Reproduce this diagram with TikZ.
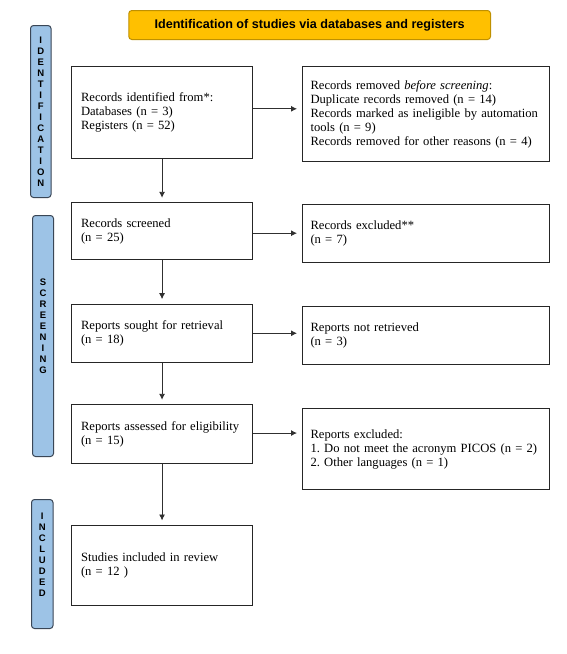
\documentclass[tikz,border=0pt]{standalone}
\usepackage{fontspec}
\setmainfont{Liberation Serif}[WordSpace=0.8]
\newfontfamily\arialfont{Liberation Sans}
\usetikzlibrary{arrows.meta}
\definecolor{titlefill}{HTML}{FFC000}
\definecolor{titledraw}{HTML}{BF9000}
\definecolor{barfill}{HTML}{9DC3E6}
\definecolor{bardraw}{HTML}{3A4656}
\definecolor{arrcol}{HTML}{303030}
\frenchspacing
\begin{document}
\begin{tikzpicture}[x=1pt,y=-1pt,
  box/.style={draw=black!85, line width=1.1pt, inner ysep=0pt, align=left,
    anchor=north west, font=\fontsize{12.6}{14}\selectfont},
  leftbox/.style={box, inner xsep=9.5pt, text width=162pt},
  rightbox/.style={box, inner xsep=8.5pt, text width=230pt},
  bar/.style={draw=bardraw, fill=barfill, line width=1pt, rounded corners=3pt,
    anchor=north west, inner sep=0pt, align=center,
    font=\arialfont\bfseries\fontsize{9.5}{11}\selectfont},
  titlebox/.style={draw=titledraw, fill=titlefill, line width=1pt, rounded corners=3pt,
    anchor=north west, inner sep=0pt,
    font=\arialfont\bfseries\fontsize{12.6}{14}\selectfont},
  arr/.style={draw=arrcol, line width=0.9pt, -{Latex[length=6pt,width=6pt]}, shorten >=4.5pt}
]
\useasboundingbox[fill=white] (0,0) rectangle (567,654);

% title
\node[titlebox, minimum width=361.7pt, minimum height=29pt] (title) at (128.3,10)
  {Identification of studies via databases and registers};

% side bars
\node[bar, minimum width=20.5pt, minimum height=172pt] (idbar) at (30,25)
  {I\\D\\E\\N\\T\\I\\F\\I\\C\\A\\T\\I\\O\\N};
\node[bar, minimum width=21pt, minimum height=241pt] (scbar) at (32,215)
  {S\\C\\R\\E\\E\\N\\I\\N\\G\\[8pt]};
\node[bar, minimum width=21.5pt, minimum height=129pt] (inbar) at (31,499)
  {I\\N\\C\\L\\U\\D\\E\\D\\[8pt]};

% left column
\node[leftbox, minimum height=91.5pt] (b1) at (71,66)
  {Records identified from*:\\Databases (n = 3)\\Registers (n = 52)};
\node[leftbox, minimum height=56.7pt] (b2) at (71,202.3)
  {Records screened\\(n = 25)};
\node[leftbox, minimum height=58pt] (b3) at (71,303.7)
  {Reports sought for retrieval\\(n = 18)};
\node[leftbox, minimum height=58.4pt] (b4) at (71,404.3)
  {Reports assessed for eligibility\\(n = 15)};
\node[leftbox, minimum height=80pt] (b5) at (71,525)
  {Studies included in review\\(n = 12 )};

% right column
\node[rightbox, minimum height=95pt] (r1) at (301.5,66)
  {Records removed \textit{before screening}:\\Duplicate records removed (n = 14)\\Records marked as ineligible by automation\\tools (n = 9)\\Records removed for other reasons (n = 4)};
\node[rightbox, minimum height=58pt] (r2) at (301.5,204)
  {Records excluded**\\(n = 7)};
\node[rightbox, minimum height=58pt] (r3) at (301.5,306)
  {Reports not retrieved\\(n = 3)};
\node[rightbox, minimum height=81.6pt] (r4) at (301.5,407.7)
  {Reports excluded:\\1. Do not meet the acronym PICOS (n = 2)\\2. Other languages (n = 1)};

% vertical arrows
\draw[arr] (b1) -- (b2);
\draw[arr] (b2) -- (b3);
\draw[arr] (b3) -- (b4);
\draw[arr] (b4) -- (b5);

% horizontal arrows
\draw[arr] ([yshift=3.5pt]b1.east) -- ([yshift=3.5pt]b1.east -| r1.west);
\draw[arr] ([yshift=-2pt]b2.east) -- ([yshift=-2pt]b2.east -| r2.west);
\draw[arr] (b3.east) -- (b3.east -| r3.west);
\draw[arr] ([yshift=1pt]b4.east) -- ([yshift=1pt]b4.east -| r4.west);
\end{tikzpicture}
\end{document}
